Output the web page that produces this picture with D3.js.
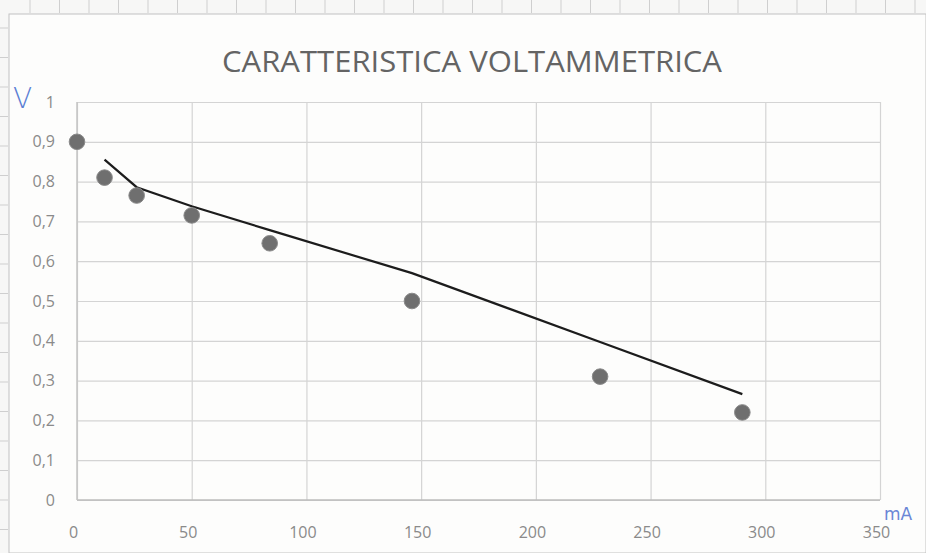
<!DOCTYPE html>
<html>
<head>
<meta charset="utf-8">
<script src="https://cdn.jsdelivr.net/npm/d3@7/dist/d3.min.js"></script>
<style>
  html, body { margin: 0; padding: 0; background: #fbfbfa; }
  svg { display: block; }
</style>
</head>
<body>
<svg id="chart" width="926" height="553"></svg>
<script>
// Measured current (mA) and voltage (V)
const currentMA = [0, 12, 26, 50, 84, 146, 228, 290];
const voltage   = [0.90, 0.81, 0.765, 0.715, 0.645, 0.50, 0.31, 0.22];

// Fitted characteristic curve
const curveMA = [12, 26, 50, 84, 146, 228, 290];
const curveV  = [0.855, 0.786, 0.738, 0.678, 0.57, 0.397, 0.266];

const xTicks = [0, 50, 100, 150, 200, 250, 300, 350];
const yTicks = [0, 0.1, 0.2, 0.3, 0.4, 0.5, 0.6, 0.7, 0.8, 0.9, 1];

const titleText = "CARATTERISTICA VOLTAMMETRICA";

const W = 926, H = 553;
const plot = { left: 77, right: 880, top: 102, bottom: 500 };

const svg = d3.select("#chart");

// graph paper strip around the sheet
const paper = svg.append("g").attr("stroke", "#cfcfcf").attr("stroke-width", 1);
paper.append("rect").attr("x", 0).attr("y", 0).attr("width", W).attr("height", 14).attr("fill", "#f7f7f6").attr("stroke", "none");
paper.append("rect").attr("x", 0).attr("y", 0).attr("width", 9).attr("height", H).attr("fill", "#f7f7f6").attr("stroke", "none");
paper.selectAll("line.pv").data(d3.range(30, W, 29.5)).join("line")
  .attr("x1", d => d).attr("x2", d => d).attr("y1", 0).attr("y2", 13);
paper.selectAll("line.ph").data(d3.range(28, H, 29.5)).join("line")
  .attr("x1", 0).attr("x2", 8).attr("y1", d => d).attr("y2", d => d);

// chart sheet
svg.append("rect")
  .attr("x", 9).attr("y", 14).attr("width", W - 9).attr("height", H - 14)
  .attr("fill", "#fdfdfc").attr("stroke", "#c2c2c2").attr("stroke-width", 1);

const x = d3.scaleLinear().domain([0, 350]).range([plot.left, plot.right]);
const y = d3.scaleLinear().domain([0, 1]).range([plot.bottom, plot.top]);

const fmt = d => d3.format(".1~f")(d).replace(".", ",");

// gridlines
const grid = svg.append("g");
grid.append("g")
  .attr("transform", `translate(0,${plot.bottom})`)
  .call(d3.axisBottom(x).tickValues(xTicks).tickSize(-(plot.bottom - plot.top)).tickFormat(""))
  .call(g => g.select(".domain").remove())
  .call(g => g.selectAll(".tick line").attr("stroke", "#d4d4d4").attr("stroke-width", 1.2));
grid.append("g")
  .attr("transform", `translate(${plot.left},0)`)
  .call(d3.axisLeft(y).tickValues(yTicks).tickSize(-(plot.right - plot.left)).tickFormat(""))
  .call(g => g.select(".domain").remove())
  .call(g => g.selectAll(".tick line").attr("stroke", "#d4d4d4").attr("stroke-width", 1.2));

// axis lines
svg.append("line").attr("x1", plot.left).attr("x2", plot.right)
  .attr("y1", plot.bottom).attr("y2", plot.bottom).attr("stroke", "#bdbdbd").attr("stroke-width", 1.5);
svg.append("line").attr("x1", plot.left).attr("x2", plot.left)
  .attr("y1", plot.top).attr("y2", plot.bottom).attr("stroke", "#c4c4c4").attr("stroke-width", 1.5);

// tick labels
const labelFont = "Open Sans, Lato, sans-serif";
svg.append("g")
  .attr("transform", `translate(0,${plot.bottom + 24})`)
  .call(d3.axisBottom(x).tickValues(xTicks).tickSize(0).tickFormat(d3.format("d")))
  .call(g => g.select(".domain").remove())
  .call(g => g.selectAll("text").attr("fill", "#8a8a8a").attr("font-size", 16).attr("font-family", labelFont).attr("dx", -4));
svg.append("g")
  .attr("transform", `translate(${plot.left - 19},0)`)
  .call(d3.axisLeft(y).tickValues(yTicks).tickSize(0).tickFormat(fmt))
  .call(g => g.select(".domain").remove())
  .call(g => g.selectAll("text").attr("fill", "#8a8a8a").attr("font-size", 16).attr("font-family", labelFont));

// title
svg.append("text")
  .attr("x", 222).attr("y", 72)
  .attr("textLength", 500).attr("lengthAdjust", "spacingAndGlyphs")
  .attr("font-family", "Open Sans, sans-serif").attr("font-size", 30)
  .attr("fill", "#646464")
  .text(titleText);

// handwritten axis units
svg.append("text").attr("x", 13).attr("y", 108)
  .attr("font-family", "DejaVu Sans, sans-serif").attr("font-size", 28)
  .attr("fill", "#5b7fd4").attr("font-weight", 300).text("V");
svg.append("text").attr("x", 884).attr("y", 520)
  .attr("font-family", "DejaVu Sans, sans-serif").attr("font-size", 17)
  .attr("fill", "#6a86d6").text("mA");

// fitted curve
const line = d3.line().x(d => x(d[0])).y(d => y(d[1]));
svg.append("path")
  .datum(curveMA.map((m, i) => [m, curveV[i]]))
  .attr("d", line)
  .attr("fill", "none").attr("stroke", "#1c1c1c").attr("stroke-width", 2.2);

// measured points
svg.append("g").selectAll("circle")
  .data(currentMA.map((m, i) => [m, voltage[i]]))
  .join("circle")
  .attr("cx", d => x(d[0])).attr("cy", d => y(d[1]))
  .attr("r", 7.8)
  .attr("fill", "#6f6f6f").attr("stroke", "#8a8a8a").attr("stroke-width", 1);
</script>
</body>
</html>
